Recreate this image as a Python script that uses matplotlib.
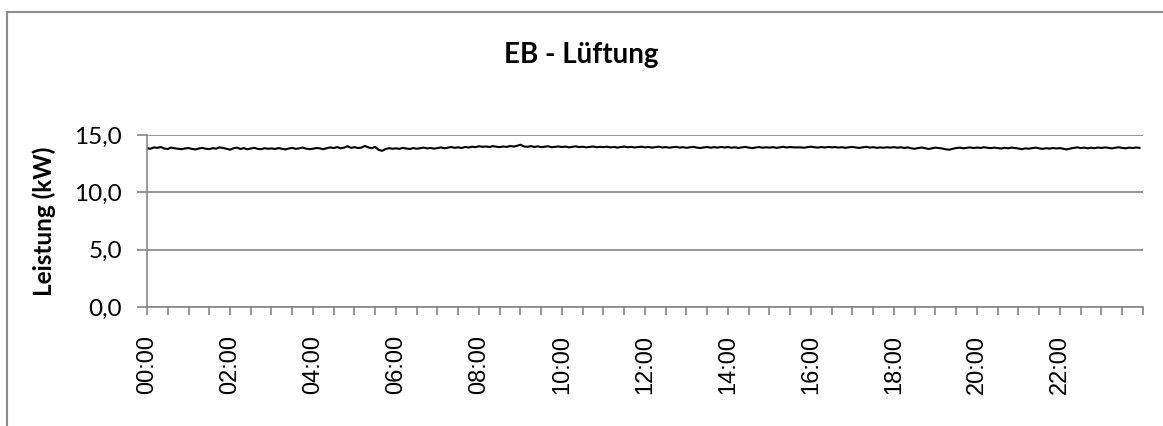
import numpy as np
import matplotlib.pyplot as plt
from matplotlib.patches import Rectangle

# 5-minute readings (kW), one row per hour
power_kw = [
    13.85, 13.80, 13.92, 13.88, 13.95, 13.82, 13.78, 13.90, 13.84, 13.80, 13.76, 13.83,
    13.86, 13.79, 13.74, 13.82, 13.88, 13.80, 13.77, 13.85, 13.81, 13.92, 13.87, 13.79,
    13.72, 13.84, 13.90, 13.78, 13.86, 13.75, 13.82, 13.88, 13.79, 13.76, 13.85, 13.80,
    13.83, 13.78, 13.86, 13.80, 13.74, 13.82, 13.88, 13.79, 13.84, 13.90, 13.81, 13.77,
    13.80, 13.87, 13.83, 13.76, 13.85, 13.92, 13.86, 13.95, 13.84, 13.90, 14.02, 13.88,
    13.94, 13.86, 13.90, 14.05, 13.92, 13.85, 13.96, 13.70, 13.62, 13.78, 13.85, 13.80,
    13.84, 13.79, 13.88, 13.82, 13.78, 13.86, 13.80, 13.85, 13.90, 13.83, 13.87, 13.81,
    13.86, 13.92, 13.84, 13.90, 13.95, 13.88, 13.93, 13.86, 13.96, 13.91, 13.98, 13.94,
    14.02, 13.97, 14.00, 13.95, 14.03, 13.98, 13.94, 14.00, 13.96, 14.04, 13.99, 14.06,
    14.15, 14.00, 13.97, 14.03, 13.96, 14.01, 13.94, 13.98, 14.02, 13.93, 13.97, 14.00,
    13.95, 13.99, 13.92, 13.97, 14.01, 13.94, 13.98, 13.92, 13.96, 14.00, 13.93, 13.97,
    13.94, 13.98, 13.92, 13.96, 13.90, 13.95, 13.99, 13.93, 13.97, 13.91, 13.95, 13.98,
    13.92, 13.96, 13.90, 13.94, 13.98, 13.91, 13.95, 13.89, 13.93, 13.97, 13.90, 13.94,
    13.88, 13.93, 13.97, 13.90, 13.86, 13.92, 13.95, 13.89, 13.94, 13.90, 13.96, 13.91,
    13.95, 13.89, 13.93, 13.87, 13.92, 13.96, 13.90, 13.85, 13.91, 13.95, 13.89, 13.93,
    13.90, 13.94, 13.88, 13.92, 13.97, 13.91, 13.95, 13.92, 13.92, 13.92, 13.89, 13.94,
    13.98, 13.93, 13.90, 13.95, 13.91, 13.96, 13.92, 13.95, 13.90, 13.94, 13.88, 13.93,
    13.96, 13.91, 13.87, 13.93, 13.97, 13.90, 13.94, 13.88, 13.92, 13.89, 13.93, 13.90,
    13.94, 13.89, 13.93, 13.87, 13.92, 13.84, 13.80, 13.86, 13.91, 13.85, 13.78, 13.84,
    13.90, 13.86, 13.82, 13.75, 13.72, 13.80, 13.86, 13.90, 13.84, 13.88, 13.92, 13.86,
    13.91, 13.87, 13.93, 13.89, 13.85, 13.90, 13.86, 13.82, 13.88, 13.84, 13.90, 13.87,
    13.82, 13.76, 13.84, 13.80, 13.86, 13.90, 13.83, 13.79, 13.85, 13.81, 13.87, 13.82,
    13.86, 13.80, 13.74, 13.82, 13.88, 13.92, 13.86, 13.90, 13.84, 13.89, 13.85, 13.91,
    13.87, 13.92, 13.88, 13.83, 13.89, 13.93, 13.87, 13.84, 13.90, 13.86, 13.91, 13.88,
]
hours = np.arange(len(power_kw)) * 5 / 60

y_ticks = [0, 5, 10, 15]
y_tick_labels = ["0,0", "5,0", "10,0", "15,0"]
x_label_hours = list(range(0, 24, 2))
x_tick_labels = [f"{h:02d}:00" for h in x_label_hours]

GRAY = "#868686"

fig = plt.figure(figsize=(11.63, 4.26), dpi=100)
ax = fig.add_axes([147 / 1163, 1 - 307 / 426, (1143 - 147) / 1163, (307 - 135) / 426])

ax.plot(hours, power_kw, color="black", linewidth=1.5)

ax.set_xlim(0, 24)
ax.set_ylim(0, 15)
ax.set_yticks(y_ticks)
ax.set_yticklabels(y_tick_labels, family="Lato", fontsize=17.5)
ax.set_xticks(np.arange(0, 24.01, 0.5), minor=True)
ax.set_xticks(x_label_hours)
ax.set_xticklabels(x_tick_labels, rotation=90, family="Liberation Sans", fontsize=17)
ax.tick_params(axis="x", which="both", length=6, color=GRAY, width=1.2, pad=14)
ax.tick_params(axis="y", length=7, color=GRAY, width=1.2, pad=11)

ax.grid(axis="y", color=GRAY, linewidth=1.2)
ax.set_axisbelow(True)
for side in ["top", "right"]:
    ax.spines[side].set_visible(False)
for side in ["left", "bottom"]:
    ax.spines[side].set_color(GRAY)
    ax.spines[side].set_linewidth(1.2)

ax.set_ylabel("Leistung (kW)", family="Lato", fontweight="bold", fontsize=17.5, labelpad=13)
fig.text(0.5, 1 - 55 / 426, "EB - Lüftung", family="Lato", fontweight="bold",
         fontsize=20, ha="center", va="center")

# outer chart frame (cut off at right and bottom in the original)
fig.patches.append(Rectangle((7 / 1163, -0.1), 1.2, 1.1 - 12 / 426, transform=fig.transFigure,
                             fill=False, edgecolor="#8c8c8c", linewidth=1.5))

fig.savefig("out.png", dpi=100)
